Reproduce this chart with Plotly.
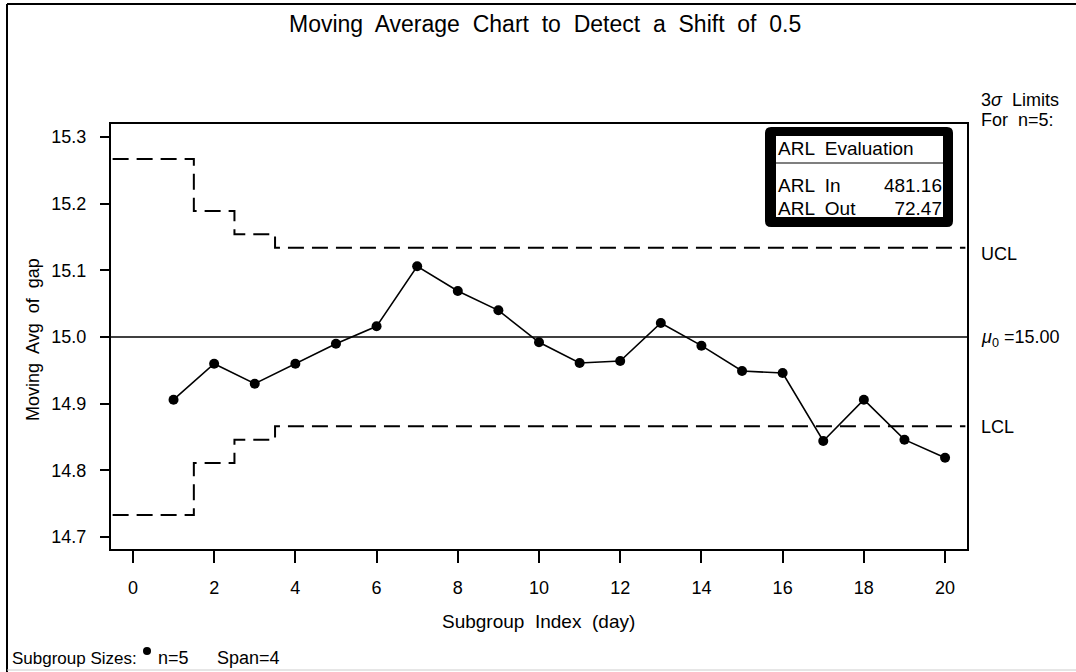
import plotly.graph_objects as go

# ---------------- data ----------------
subgroups = list(range(1, 21))
moving_avg = [14.906, 14.960, 14.930, 14.960, 14.990, 15.016, 15.106, 15.069, 15.040, 14.992,
              14.961, 14.964, 15.021, 14.987, 14.949, 14.946, 14.844, 14.906, 14.846, 14.819]
mu0 = 15.00
ucl = [15.267, 15.189, 15.154] + [15.134] * 17
lcl = [14.733, 14.811, 14.846] + [14.866] * 17
y_ticks = [14.7, 14.8, 14.9, 15.0, 15.1, 15.2, 15.3]
x_ticks = list(range(0, 21, 2))
arl_in = "481.16"
arl_out = "72.47"

# ---------------- layout geometry ----------------
W, H = 1076, 672
L, R, T, B = 111, 967, 124, 549
XR = [-0.54, 20.54]
YR = [14.682, 15.3195]

def dx(px):
    return XR[0] + (px - L) / (R - L) * (XR[1] - XR[0])

def dy(py):
    return YR[1] - (py - T) / (B - T) * (YR[1] - YR[0])

def pxp(px):
    return (px - L) / (R - L)

def pyp(py):
    return 1 - (py - T) / (B - T)

def rounded_path(x0, y0, x1, y1, r):
    pts = [
        f"M {dx(x0 + r)},{dy(y0)}",
        f"L {dx(x1 - r)},{dy(y0)}",
        f"Q {dx(x1)},{dy(y0)} {dx(x1)},{dy(y0 + r)}",
        f"L {dx(x1)},{dy(y1 - r)}",
        f"Q {dx(x1)},{dy(y1)} {dx(x1 - r)},{dy(y1)}",
        f"L {dx(x0 + r)},{dy(y1)}",
        f"Q {dx(x0)},{dy(y1)} {dx(x0)},{dy(y1 - r)}",
        f"L {dx(x0)},{dy(y0 + r)}",
        f"Q {dx(x0)},{dy(y0)} {dx(x0 + r)},{dy(y0)}",
        "Z",
    ]
    return " ".join(pts)

FONT = "Liberation Sans, Arial, sans-serif"
FS = 18
BOXFS = 19

fig = go.Figure()

# step limits
edges = [XR[0] + 0.04] + [s + 0.5 for s in subgroups]
fig.add_trace(go.Scatter(x=edges, y=ucl + [ucl[-1]], mode="lines", line_shape="hv",
                         line=dict(color="black", width=2, dash="16px,8px"), hoverinfo="skip"))
fig.add_trace(go.Scatter(x=edges, y=lcl + [lcl[-1]], mode="lines", line_shape="hv",
                         line=dict(color="black", width=2, dash="16px,8px"), hoverinfo="skip"))
# center line
fig.add_trace(go.Scatter(x=[XR[0], XR[1]], y=[mu0, mu0], mode="lines",
                         line=dict(color="black", width=1.5), hoverinfo="skip"))
# moving averages
fig.add_trace(go.Scatter(x=subgroups, y=moving_avg, mode="lines+markers",
                         line=dict(color="black", width=1.6),
                         marker=dict(color="black", size=10)))

# ARL box texts (as traces so the border can overlap them)
fig.add_trace(go.Scatter(x=[dx(778), dx(778), dx(778)], y=[dy(150), dy(187), dy(210)],
                         mode="text", text=["ARL  Evaluation", "ARL  In", "ARL  Out"],
                         textposition="middle right",
                         textfont=dict(family=FONT, size=BOXFS, color="black"), hoverinfo="skip"))
fig.add_trace(go.Scatter(x=[dx(942), dx(942)], y=[dy(187), dy(210)],
                         mode="text", text=[arl_in, arl_out],
                         textposition="middle left",
                         textfont=dict(family=FONT, size=BOXFS, color="black"), hoverinfo="skip"))

shapes = [
    dict(type="path", xref="x", yref="y", path=rounded_path(765, 127, 953, 227, 6),
         fillcolor="black", line=dict(width=0), layer="below"),
    dict(type="rect", xref="x", yref="y", x0=dx(776), x1=dx(943), y0=dy(136), y1=dy(217),
         fillcolor="white", line=dict(width=0), layer="below"),
    dict(type="line", xref="x", yref="y", x0=dx(776), x1=dx(943), y0=dy(163), y1=dy(163),
         line=dict(color="black", width=1.2), layer="below"),
    dict(type="rect", xref="x", yref="y", x0=dx(767), x1=dx(951), y0=dy(217), y1=dy(224),
         fillcolor="black", line=dict(width=0), layer="above"),
    # outer page border
    dict(type="line", xref="paper", yref="paper", x0=pxp(7), x1=pxp(1076), y0=pyp(4), y1=pyp(4),
         line=dict(color="black", width=2)),
    dict(type="line", xref="paper", yref="paper", x0=pxp(7), x1=pxp(7), y0=pyp(4), y1=pyp(672),
         line=dict(color="black", width=2)),
    dict(type="line", xref="paper", yref="paper", x0=pxp(7), x1=pxp(1076), y0=pyp(670), y1=pyp(670),
         line=dict(color="#cccccc", width=1)),
    # legend dot for subgroup sizes
    dict(type="circle", xref="paper", yref="paper", x0=pxp(143), x1=pxp(151),
         y0=pyp(647), y1=pyp(655), fillcolor="black", line=dict(width=0)),
]

ann = []
def add_ann(text, px, py, xanchor="left", size=FS):
    ann.append(dict(text=text, xref="paper", yref="paper", x=pxp(px), y=pyp(py),
                    xanchor=xanchor, yanchor="middle", showarrow=False,
                    font=dict(family=FONT, size=size, color="black")))

add_ann("Moving  Average  Chart  to  Detect  a  Shift  of  0.5", 545, 24, "center", 23)
add_ann("3<i>σ</i>  Limits", 979, 100)
add_ann("For  n=5:", 979, 120)
add_ann("UCL", 979, 254)
add_ann("<i>μ</i><sub>0</sub> =15.00", 979, 338)
add_ann("LCL", 979, 427)
add_ann("Subgroup  Index  (day)", 538, 621, "center", 19)
add_ann("Subgroup Sizes:", 10, 658, "left", 17)
add_ann("n=5", 156, 658)
add_ann("Span=4", 215, 658)
ann.append(dict(text="Moving  Avg  of  gap", xref="paper", yref="paper", x=pxp(33), y=pyp(340),
                xanchor="center", yanchor="middle", textangle=-90, showarrow=False,
                font=dict(family=FONT, size=FS, color="black")))

fig.update_layout(
    width=W, height=H, autosize=False,
    margin=dict(l=L, r=W - R, t=T, b=H - B, pad=0),
    paper_bgcolor="white", plot_bgcolor="white",
    showlegend=False,
    shapes=shapes, annotations=ann,
    font=dict(family=FONT, size=FS, color="black"),
)
fig.update_xaxes(range=XR, tickvals=x_ticks, ticks="outside", ticklen=12, tickwidth=1.5,
                 tickcolor="black", showline=True, linecolor="black", linewidth=2, mirror=True,
                 showgrid=False, zeroline=False, ticklabelstandoff=9,
                 tickfont=dict(family=FONT, size=FS, color="black"))
fig.update_yaxes(range=YR, tickvals=y_ticks, ticktext=[f"{v:.1f}" for v in y_ticks],
                 ticks="outside", ticklen=9, tickwidth=1.5,
                 tickcolor="black", showline=True, linecolor="black", linewidth=2, mirror=True,
                 showgrid=False, zeroline=False, ticklabelstandoff=10,
                 tickfont=dict(family=FONT, size=FS, color="black"))

fig.write_html("out.html")
